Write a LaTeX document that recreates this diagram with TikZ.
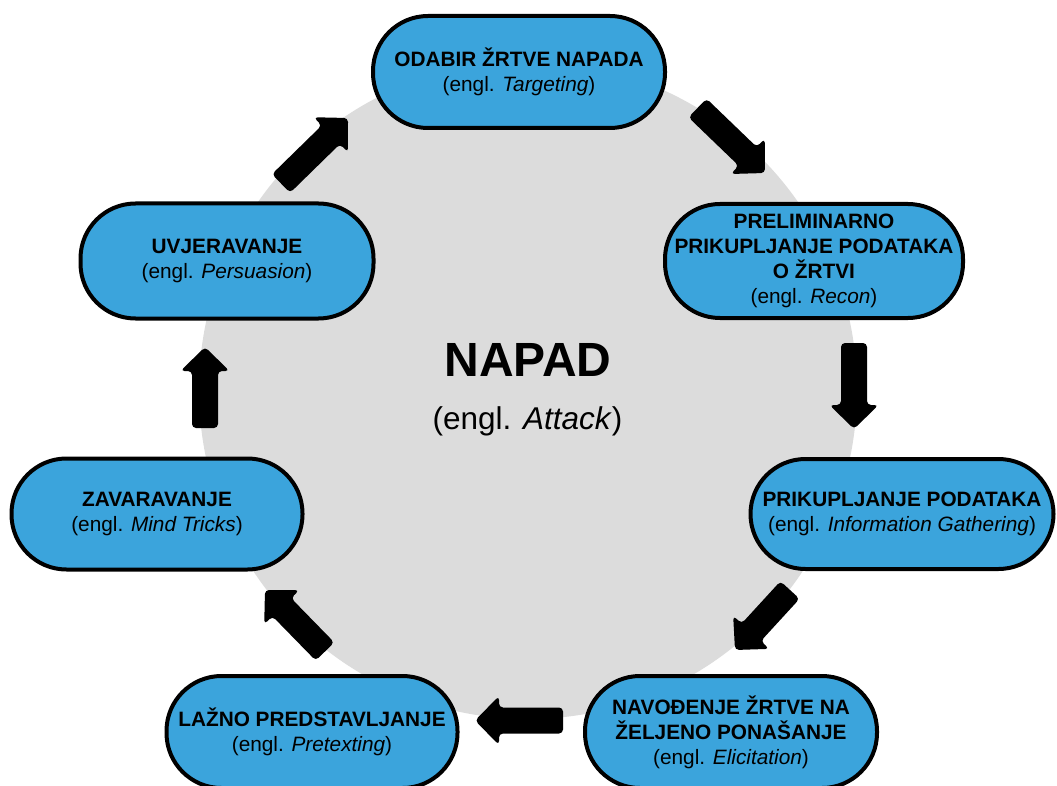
\documentclass[tikz,border=0pt]{standalone}
\usepackage{fontspec}
\setmainfont{Liberation Sans}
\usetikzlibrary{calc}
\definecolor{stageblue}{RGB}{59,164,220}
\definecolor{discgray}{RGB}{220,220,220}
% block arrow from tail point #1 to tip point #2
\newcommand\blockarrow[2]{%
  \coordinate (ba-t) at (#1);
  \coordinate (ba-h) at (#2);
  \coordinate (ba-b) at ($(ba-h)!24pt!(ba-t)$);
  \fill[arrowfill] ($(ba-t)!13pt!90:(ba-h)$) -- ($(ba-b)!13pt!90:(ba-h)$)
    -- ($(ba-b)!24.5pt!90:(ba-h)$) -- (ba-h) -- ($(ba-b)!24.5pt!-90:(ba-h)$)
    -- ($(ba-b)!13pt!-90:(ba-h)$) -- ($(ba-t)!13pt!-90:(ba-h)$) -- cycle;}
\begin{document}
\begin{tikzpicture}[x=1pt,y=-1pt,
  stage/.style={draw=black, line width=4pt, fill=stageblue, rounded corners=55pt,
    minimum height=112pt, minimum width=292pt, align=center, inner sep=2pt,
    font=\fontsize{20.8}{25}\selectfont},
  arrowfill/.style={fill=black, rounded corners=4pt},
  bigtitle/.style={font=\fontsize{48}{56}\selectfont\bfseries, anchor=base, inner sep=0pt},
  subtitle/.style={font=\fontsize{31.5}{38}\selectfont, anchor=base, inner sep=0pt}]
\useasboundingbox (0,0) rectangle (1057,786);
\fill[discgray] (528,390) circle[radius=329pt];
\node[bigtitle] (napad) at (528,376) {NAPAD};
\node[subtitle] (attack) at (527.5,429) {(engl. \textit{Attack})};

\node[stage] (N1) at (519,72) {\textbf{ODABIR ŽRTVE NAPADA}\\(engl. \textit{Targeting})};
\node[stage, minimum width=298pt, minimum height=114pt] (N2) at (814,261)
  {\textbf{PRELIMINARNO}\\\textbf{PRIKUPLJANJE PODATAKA}\\\textbf{O ŽRTVI}\\(engl. \textit{Recon})};
\node[stage, minimum width=303pt, minimum height=110pt] (N3) at (902,514)
  {\textbf{PRIKUPLJANJE PODATAKA}\\(engl. \textit{Information Gathering})};
\node[stage] (N4) at (731,732)
  {\textbf{NAVOĐENJE ŽRTVE NA}\\\textbf{ŽELJENO PONAŠANJE}\\(engl. \textit{Elicitation})};
\node[stage, minimum width=291pt] (N5) at (312,732)
  {\textbf{LAŽNO PREDSTAVLJANJE}\\(engl. \textit{Pretexting})};
\node[stage, minimum width=291pt, minimum height=111pt] (N6) at (157,514)
  {\textbf{ZAVARAVANJE}\\(engl. \textit{Mind Tricks})};
\node[stage, minimum width=293pt, minimum height=115pt] (N7) at (227,261)
  {\textbf{UVJERAVANJE}\\(engl. \textit{Persuasion})};

\blockarrow{$(N1.east)+(30.5,36)$}{$(N2.north)+(-49,-29)$}
\blockarrow{$(N2.south)+(40,23)$}{$(N3.north)+(-48,-28)$}
\blockarrow{$(N3.west)+(41.5,76)$}{$(N4.north)+(4,-24)$}
\blockarrow{$(N4.west)+(-20,-11.5)$}{$(N5.east)+(15.5,-11.5)$}
\blockarrow{$(N5.north)+(13,-22.5)$}{$(N6.east)+(-39.5,76)$}
\blockarrow{$(N6.north)+(48,-28.5)$}{$(N7.south)+(-22,26.5)$}
\blockarrow{$(N7.north)+(54,-18)$}{$(N1.west)+(-23,46)$}
\end{tikzpicture}
\end{document}
